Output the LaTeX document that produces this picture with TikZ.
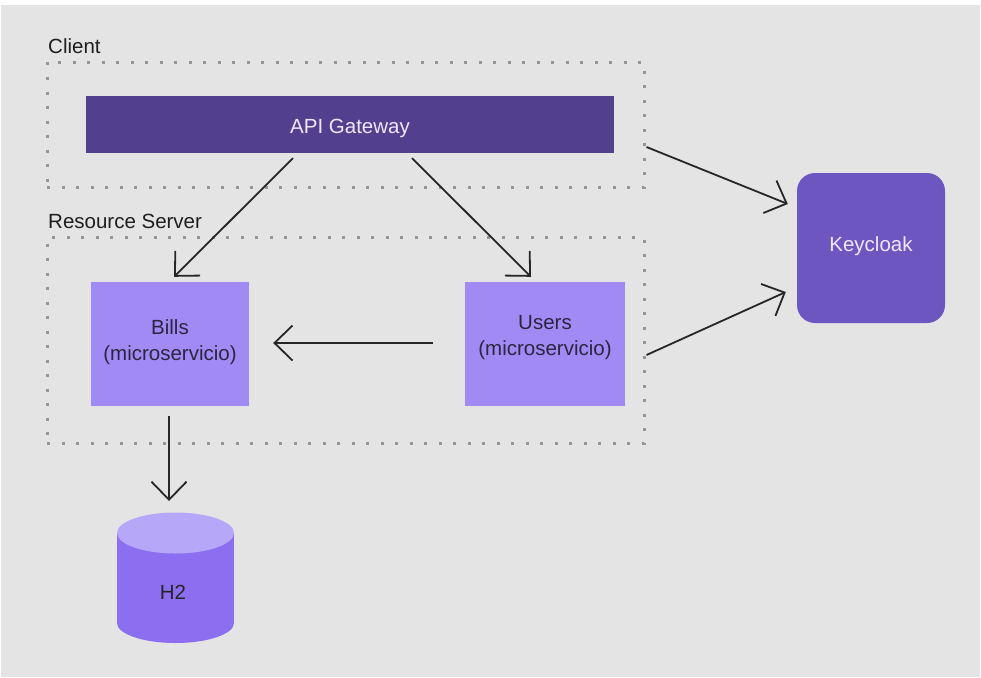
\documentclass[tikz,border=0pt]{standalone}
\usepackage{fontspec}
\setmainfont{Liberation Sans}
\usetikzlibrary{arrows.meta}
\definecolor{bgc}{HTML}{E4E4E4}
\definecolor{gwc}{HTML}{52408F}
\definecolor{svcc}{HTML}{A28AF4}
\definecolor{kcc}{HTML}{6E56C1}
\definecolor{cylbody}{HTML}{8C6EF1}
\definecolor{cyltop}{HTML}{B6A7F8}
\definecolor{dotc}{HTML}{959595}
\definecolor{lighttext}{HTML}{EEE8FF}
\definecolor{darktext}{HTML}{2A2540}
\definecolor{arrc}{HTML}{262626}
\begin{document}
\begin{tikzpicture}[x=1pt,y=-1pt,
  every node/.style={font=\fontsize{20.5}{26}\selectfont},
  zone/.style={draw=dotc, line width=3pt, dash pattern=on 3pt off 11.5pt, minimum width=597pt, inner sep=0pt, rectangle},
  zonelabel/.style={anchor=base west, text=black!88, inner sep=0pt},
  svcbox/.style={fill=svcc, minimum width=158pt, minimum height=124pt, inner sep=0pt},
  svctext/.style={text=darktext, align=center, inner sep=0pt},
  flow/.style={draw=arrc, line width=1.8pt, -{Straight Barb[length=18pt,width=35pt,line width=1.8pt]}}
]
\useasboundingbox (0,0) rectangle (981,677);
\fill[white] (0,0) rectangle (981,677);
\fill[bgc] (1,5) rectangle (980,677);

% zones
\node[zone, minimum height=125pt] (client) at (345.5,124.5) {};
\node[zone, minimum height=206pt] (rs) at (345.5,340) {};
\node[zonelabel] (clientlbl) at (48,53) {Client};
\node[zonelabel] (rslbl) at (48,228) {Resource Server};

% gateway
\node[fill=gwc, minimum width=528pt, minimum height=57pt, inner sep=0pt] (gw) at (350,124.5) {};
\node[text=lighttext, inner sep=0pt] (gwt) at ([yshift=-4pt]gw.center) {API Gateway};

% services
\node[svcbox] (bills) at (170,344) {};
\node[svctext] (billst) at ([yshift=1.5pt]bills.center) {Bills\\(microservicio)};
\node[svcbox, minimum width=160pt] (users) at (545,344) {};
\node[svctext] (userst) at ([yshift=6pt]users.center) {Users\\(microservicio)};

% keycloak
\node[fill=kcc, rounded corners=18pt, minimum width=148pt, minimum height=150pt, inner sep=0pt] (kc) at (871,248) {};
\node[text=lighttext, inner sep=0pt] (kct) at ([yshift=2pt]kc.center) {Keycloak};

% H2 cylinder
\fill[cylbody] (117,533) rectangle (234,623);
\fill[cylbody] (175.5,623) ellipse [x radius=58.5, y radius=20];
\fill[cyltop] (175.5,533) ellipse [x radius=58.5, y radius=20.5];
\coordinate (h2top) at (175.5,513);
\node[text=black!85, inner sep=0pt] (h2) at (173,592) {H2};

% connectors
\draw[flow] ([xshift=-57pt,yshift=-5pt]gw.south) -- ([xshift=4pt,yshift=5pt]bills.north);
\draw[flow] ([xshift=62pt,yshift=-5pt]gw.south) -- ([xshift=-14pt,yshift=5pt]users.north);
\draw[flow] ([xshift=-32pt,yshift=1pt]users.west) -- ([xshift=24pt,yshift=1pt]bills.east);
\draw[flow] ([xshift=1pt,yshift=-22.5pt]client.east) -- ([xshift=-9pt,yshift=44pt]kc.west);
\draw[flow] ([xshift=1pt,yshift=-15pt]rs.east) -- ([xshift=-11pt,yshift=-44pt]kc.west);
\draw[flow] ([xshift=-1pt,yshift=-10pt]bills.south) -- ([xshift=-6.5pt,yshift=12pt]h2top);
\end{tikzpicture}
\end{document}
